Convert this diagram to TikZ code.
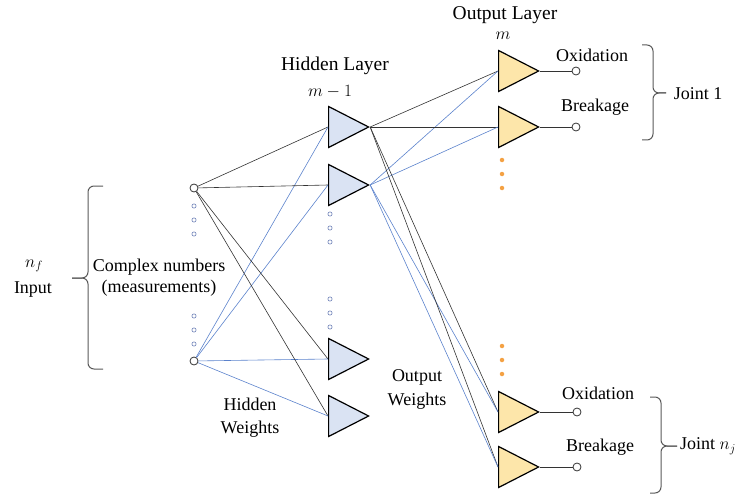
\documentclass[tikz,border=0pt]{standalone}
\usepackage{fontspec}
\setmainfont{Liberation Serif}
\usetikzlibrary{shapes.geometric}
\definecolor{hidfill}{HTML}{DAE3F3}
\definecolor{outfill}{HTML}{FDE6AA}
\definecolor{wblue}{HTML}{5B82CC}
\definecolor{wdark}{HTML}{333333}
\definecolor{dotblue}{HTML}{7C8DBE}
\definecolor{dotorange}{HTML}{F4A143}
\tikzset{
	neuron/.style={isosceles triangle,isosceles triangle stretches,
		draw=black,line width=1.2pt,minimum width=41pt,minimum height=40pt,
		inner sep=0pt,anchor=lower side},
	hidneuron/.style={neuron,fill=hidfill},
	outneuron/.style={neuron,fill=outfill},
	port/.style={circle,draw=wdark,fill=white,line width=.8pt,
		minimum size=8pt,inner sep=0pt},
	smalldot/.style={circle,draw=dotblue,line width=.7pt,
		minimum size=4.2pt,inner sep=0pt},
	orangedot/.style={circle,fill=dotorange,minimum size=4.5pt,inner sep=0pt},
	lbl/.style={inner sep=0pt,anchor=center,
		font=\fontsize{18}{21}\selectfont},
	title/.style={lbl,font=\fontsize{19.5}{22}\selectfont},
	wdarkline/.style={draw=wdark,line width=.6pt},
	wblueline/.style={draw=wblue,line width=.6pt},
	bracket/.style={draw=black!65,line width=1pt,rounded corners=6pt},
}
\begin{document}
\begin{tikzpicture}[x=1pt,y=-1pt]
	\useasboundingbox (0,0) rectangle (740,495);
	% input
	\node[port] (i1) at (194,188) {};
	\node[port] (i2) at (194,361) {};
	\foreach \y [count=\k] in {206,220,234,316,330,344}
		\node[smalldot] (id\k) at (194,\y) {};
	% hidden layer
	\node[hidneuron] (h1) at (328,127) {};
	\node[hidneuron] (h2) at (328,185) {};
	\node[hidneuron] (h3) at (328,359) {};
	\node[hidneuron] (h4) at (328,416) {};
	\foreach \y [count=\k] in {214,228,242,299,313,327}
		\node[smalldot] (hd\k) at (330,\y) {};
	% output layer
	\node[outneuron] (o1) at (498,71) {};
	\node[outneuron] (o2) at (498,127) {};
	\node[outneuron] (o3) at (498,412) {};
	\node[outneuron] (o4) at (498,467) {};
	\foreach \y [count=\k] in {160,174,188,346,360,374}
		\node[orangedot] (od\k) at (502,\y) {};
	\node[port] (c1) at (576,71) {};
	\node[port] (c2) at (576,127) {};
	\node[port] (c3) at (577,412) {};
	\node[port] (c4) at (577,467) {};
	\foreach \k in {1,...,4}
		\draw[wdarkline] (o\k.apex) -- (c\k);
	% weights
	\foreach \k in {1,...,4}{
		\draw[wdarkline] (i1) -- (h\k.lower side);
		\draw[wblueline] (i2) -- (h\k.lower side);
		\draw[wdarkline] (h1.apex) -- (o\k.lower side);
		\draw[wblueline] (h2.apex) -- (o\k.lower side);
	}
	% braces
	\draw[bracket] (103,186) -- (88,186) -- (88,278) -- (72,278);
	\draw[bracket] (103,369) -- (88,369) -- (88,278) -- (72,278);
	\draw[bracket] (642,45) -- (653,45) -- (653,93) -- (666,93);
	\draw[bracket] (642,140) -- (653,140) -- (653,93) -- (666,93);
	\draw[bracket] (650,397) -- (661,397) -- (661,446) -- (677,446);
	\draw[bracket] (650,493) -- (661,493) -- (661,446) -- (677,446);
	% labels
	\node[lbl] (nf) at (34,266) {$n_f$};
	\node[lbl] (inp) at (33,290) {Input};
	\node[lbl] (cn1) at (159,267) {Complex numbers};
	\node[lbl] (cn2) at (159,288) {(measurements)};
	\node[title] (hl1) at (335,66) {Hidden Layer};
	\node[lbl] (hl2) at (330,92) {$m-1$};
	\node[title] (ol1) at (505,15) {Output Layer};
	\node[lbl] (ol2) at (503,36) {$m$};
	\node[lbl] (hw1) at (250,404) {Hidden};
	\node[lbl] (hw2) at (250,429) {Weights};
	\node[lbl] (ow1) at (417,377) {Output};
	\node[lbl] (ow2) at (417,401) {Weights};
	\node[lbl] (ox1) at (592,55) {Oxidation};
	\node[lbl] (br1) at (595,107) {Breakage};
	\node[lbl] (ox2) at (598,393) {Oxidation};
	\node[lbl] (br2) at (600,447) {Breakage};
	\node[lbl] (j1) at (698,94) {Joint 1};
	\node[lbl] (jn) at (708,446) {Joint $n_j$};
\end{tikzpicture}
\end{document}
